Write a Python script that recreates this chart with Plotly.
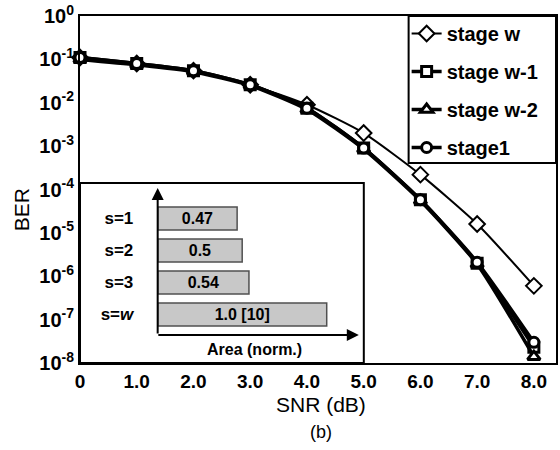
import plotly.graph_objects as go

# ---------------- data ----------------
snr = [0, 1, 2, 3, 4, 5, 6, 7, 8]
ber_stage_w = [0.11, 0.08, 0.055, 0.026, 0.009, 0.002, 2.2e-4, 1.6e-5, 6e-7]
ber_stage_w1 = [0.11, 0.08, 0.055, 0.026, 0.0075, 0.0009, 5.8e-5, 2.0e-6, 2.3e-8]
ber_stage_w2 = [0.10, 0.075, 0.052, 0.025, 0.007, 0.00085, 5.5e-5, 1.9e-6, 1.4e-8]
ber_stage1 = [0.11, 0.08, 0.055, 0.026, 0.0075, 0.0009, 5.8e-5, 2.1e-6, 3.0e-8]

x_tickvals = [0, 1, 2, 3, 4, 5, 6, 7, 8]
x_ticktext = ["0", "1.0", "2.0", "3.0", "4.0", "5.0", "6.0", "7.0", "8.0"]
y_exponents = [0, -1, -2, -3, -4, -5, -6, -7, -8]

inset_labels = ["s=<i>w</i>", "s=3", "s=2", "s=1"]
inset_area = [1.0, 0.54, 0.5, 0.47]
inset_text = ["1.0 [10]", "0.54", "0.5", "0.47"]

FONT = "Arial, Liberation Sans, sans-serif"

fig = go.Figure()

def add_curve(y, name, symbol, lw, msize, mlw):
    fig.add_trace(go.Scatter(
        x=snr, y=y, name=name, mode="lines+markers",
        line=dict(color="black", width=lw, shape="spline", smoothing=0.6),
        marker=dict(symbol=symbol, size=msize, color="white",
                    line=dict(color="black", width=mlw)),
        cliponaxis=False, legendgroup=name,
    ))

add_curve(ber_stage_w, "stage w", "diamond", 2, 12, 2)
add_curve(ber_stage_w1, "stage w-1", "square", 3.5, 10, 3)
add_curve(ber_stage_w2, "stage w-2", "triangle-up", 3.5, 11, 3)
add_curve(ber_stage1, "stage1", "circle", 3.5, 10, 3)

# inset bar chart
fig.add_trace(go.Bar(
    x=inset_area, y=inset_labels, orientation="h",
    xaxis="x2", yaxis="y2", showlegend=False,
    width=0.72,
    marker=dict(color="#c8c8c8", line=dict(color="#505050", width=1.5)),
    text=inset_text, textposition="inside", insidetextanchor="middle",
    textfont=dict(family=FONT, size=16, color="black", weight="bold"),
    constraintext="none",
))

# geometry helpers (pixel -> paper)
L, R, T, B = 80, 558, 16, 363
W, H = R - L, B - T
def px(xp):
    return (xp - L) / W
def py(yp):
    return (B - yp) / H

fig.update_layout(
    width=560, height=450,
    margin=dict(l=L, r=560 - R, t=T, b=450 - B),
    paper_bgcolor="white", plot_bgcolor="white",
    font=dict(family=FONT, color="black"),
    showlegend=True,
    legend=dict(
        x=px(408), y=py(14), xanchor="left", yanchor="top",
        bgcolor="rgba(0,0,0,0)", borderwidth=0,
        font=dict(family=FONT, size=20, color="black", weight="bold"),
        tracegroupgap=9, traceorder="grouped",
    ),
    xaxis=dict(
        range=[0, 8.39], tickvals=x_tickvals, ticktext=x_ticktext,
        showgrid=False, zeroline=False, ticks="",
        showline=True, linecolor="black", linewidth=2, mirror=True,
        tickfont=dict(family=FONT, size=19, color="black", weight="bold"),
    ),
    yaxis=dict(
        type="log", range=[-8, 0],
        tickvals=[10 ** e for e in y_exponents],
        ticktext=["<b>10<sup>%d</sup></b>" % e for e in y_exponents],
        showgrid=False, zeroline=False, ticks="",
        showline=True, linecolor="black", linewidth=2, mirror=True,
        tickfont=dict(family=FONT, size=20, color="black"),
    ),
    xaxis2=dict(
        domain=[px(158), px(360)], range=[0, 1.19], anchor="y2",
        showgrid=False, zeroline=False, showticklabels=False, ticks="",
        showline=False,
    ),
    yaxis2=dict(
        domain=[py(335), py(188)], range=[-0.64, 3.95], anchor="x2",
        type="category", categoryarray=inset_labels,
        showgrid=False, zeroline=False, showline=False,
        ticks="outside", ticklen=20, tickcolor="rgba(0,0,0,0)",
        tickfont=dict(family=FONT, size=17, color="black", weight="bold"),
    ),
    bargap=0.28,
)

shapes = [
    # inset box
    dict(type="rect", xref="paper", yref="paper",
         x0=0, x1=px(365), y0=0, y1=py(183),
         line=dict(color="black", width=2), fillcolor="rgba(0,0,0,0)"),
    # legend box
    dict(type="rect", xref="paper", yref="paper",
         x0=px(410), x1=1, y0=py(163), y1=1,
         line=dict(color="black", width=2), fillcolor="rgba(0,0,0,0)"),
]
fig.update_layout(shapes=shapes)

def note(x, y, text, size, bold=False, angle=0):
    return dict(xref="paper", yref="paper", x=px(x), y=py(y),
                xanchor="center", yanchor="middle", text=text,
                textangle=angle, showarrow=False,
                font=dict(family=FONT, size=size, color="black",
                          weight="bold" if bold else "normal"))

annotations = [
    # inset axes arrows
    dict(xref="paper", yref="paper", x=px(158), y=py(188), ax=0, ay=335 - 188,
         axref="pixel", ayref="pixel", showarrow=True, arrowhead=2,
         arrowsize=1.2, arrowwidth=2, arrowcolor="black", text=""),
    dict(xref="paper", yref="paper", x=px(360), y=py(335), ax=-(360 - 158), ay=0,
         axref="pixel", ayref="pixel", showarrow=True, arrowhead=2,
         arrowsize=1.2, arrowwidth=2, arrowcolor="black", text=""),
    note(255, 349, "Area (norm.)", 16, bold=True),
    note(21, 210, "BER", 21, angle=-90),
    note(322, 405, "SNR (dB)", 21),
    note(322, 432, "(b)", 18),
]
fig.update_layout(annotations=annotations)

fig.write_html("out.html")
